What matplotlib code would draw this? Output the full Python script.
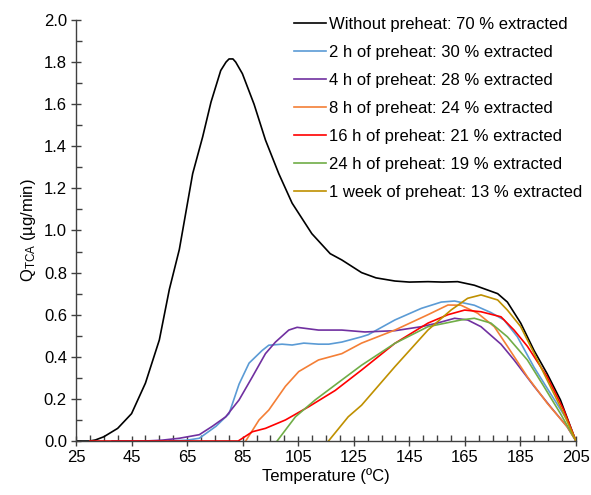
import matplotlib
matplotlib.use("Agg")
import matplotlib.pyplot as plt
from matplotlib.ticker import MultipleLocator, FormatStrFormatter

plt.rcParams['font.family'] = ['Liberation Sans', 'DejaVu Sans']
plt.rcParams['mathtext.fontset'] = 'custom'
plt.rcParams['mathtext.rm'] = 'Liberation Sans'
plt.rcParams['mathtext.it'] = 'Liberation Sans:italic'

labels = [
    "Without preheat: 70 % extracted",
    "2 h of preheat: 30 % extracted",
    "4 h of preheat: 28 % extracted",
    "8 h of preheat: 24 % extracted",
    "16 h of preheat: 21 % extracted",
    "24 h of preheat: 19 % extracted",
    "1 week of preheat: 13 % extracted",
]
colors = ["#000000", "#5B9BD5", "#7030A0", "#F47F36", "#FF0000", "#70AD47", "#BF9000"]
x_ticks = [25, 45, 65, 85, 105, 125, 145, 165, 185, 205]

t_none = [25, 30, 32, 35, 40, 45, 50, 55, 58.6, 62.2, 67.0, 70.6, 73.6, 77.1, 79, 80.1, 81.5, 82.5,
          84.9, 89.1, 93.2, 98.0, 102.8, 109.9, 116.5, 120.7, 127.8, 133, 139.8, 145, 151.7, 157,
          162.4, 168.4, 176.8, 180.3, 185.1, 189.9, 194.6, 199.4, 204.8, 205]
q_none = [0, 0, 0.005, 0.02, 0.06, 0.13, 0.275, 0.48, 0.72, 0.91, 1.27, 1.445, 1.61, 1.76, 1.80,
          1.815, 1.815, 1.80, 1.745, 1.60, 1.43, 1.27, 1.13, 0.985, 0.89, 0.86, 0.80, 0.775, 0.76,
          0.755, 0.757, 0.755, 0.757, 0.74, 0.70, 0.66, 0.56, 0.43, 0.32, 0.195, 0.005, 0]

t_2h = [58.6, 65, 69.4, 75.4, 80.1, 83.7, 87.3, 92.0, 94.4, 99.2, 102.8, 107, 112.3, 116, 120.7,
        127.8, 130.2, 139.8, 149.3, 156.5, 161.3, 168.4, 174.4, 179.1, 183.9, 189.9, 195.8,
        201.8, 205]
q_2h = [0, 0.004, 0.013, 0.07, 0.13, 0.27, 0.37, 0.43, 0.455, 0.46, 0.456, 0.465, 0.46, 0.46,
        0.47, 0.495, 0.505, 0.575, 0.63, 0.66, 0.665, 0.645, 0.61, 0.575, 0.495, 0.35, 0.226,
        0.10, 0]

t_4h = [38, 50, 56, 62.2, 69.4, 74.1, 78.9, 83.7, 88.5, 93.2, 96.8, 101.6, 104.6, 112.3, 120.7,
        129.0, 139.8, 149.3, 155, 161.3, 166.0, 170.8, 178.0, 182.7, 189.9, 195.8, 201.8, 205]
q_4h = [0, 0, 0.004, 0.013, 0.03, 0.07, 0.115, 0.195, 0.305, 0.415, 0.47, 0.527, 0.54, 0.527,
        0.527, 0.518, 0.524, 0.543, 0.56, 0.583, 0.575, 0.543, 0.46, 0.385, 0.26, 0.163, 0.068, 0]

t_8h = [86.1, 90.9, 94.4, 100.4, 105.2, 112.3, 120.7, 127.8, 139.8, 151.7, 158.9, 163.6, 169.6,
        175.6, 180.3, 187.5, 194.6, 201.8, 205]
q_8h = [0, 0.10, 0.147, 0.26, 0.33, 0.385, 0.415, 0.465, 0.527, 0.60, 0.646, 0.645, 0.607,
        0.543, 0.45, 0.305, 0.18, 0.068, 0]

t_16h = [30, 57, 83.4, 88.5, 93.2, 100.4, 108.8, 118.3, 127.8, 139.8, 151.7, 158.9, 164.9,
         170.8, 178.0, 182.7, 187.5, 194.6, 200.6, 205]
q_16h = [0, 0, 0, 0.044, 0.06, 0.10, 0.163, 0.24, 0.337, 0.464, 0.56, 0.60, 0.622, 0.614,
         0.59, 0.527, 0.45, 0.305, 0.147, 0]

t_24h = [97.4, 104.0, 111.1, 120.7, 127.8, 139.8, 151.7, 163.6, 168.4, 174.4, 180.3, 187.5,
         193.4, 199.4, 205]
q_24h = [0, 0.115, 0.195, 0.29, 0.36, 0.464, 0.543, 0.575, 0.583, 0.56, 0.495, 0.385, 0.26,
         0.13, 0]

t_1w = [115.9, 123.0, 127.8, 139.8, 151.7, 160.0, 166.0, 170.8, 176.8, 180.3, 185.1, 189.9,
        194.6, 200.6, 205]
q_1w = [0, 0.115, 0.17, 0.353, 0.527, 0.622, 0.678, 0.694, 0.67, 0.622, 0.543, 0.417, 0.29,
        0.13, 0]

series = [(t_none, q_none), (t_2h, q_2h), (t_4h, q_4h), (t_8h, q_8h),
          (t_16h, q_16h), (t_24h, q_24h), (t_1w, q_1w)]

fig = plt.figure(figsize=(5.91, 4.95), dpi=100)
ax = fig.add_axes([76/591, 1-441/495, (576-76)/591, (441-20)/495])

for (t, q), lab, c in zip(series, labels, colors):
    ax.plot(t, q, color=c, lw=1.2, label=lab)

ax.set_xlim(25, 205)
ax.set_ylim(0, 2.0)
ax.set_xticks(x_ticks)
ax.xaxis.set_minor_locator(MultipleLocator(5))
ax.yaxis.set_major_locator(MultipleLocator(0.2))
ax.yaxis.set_minor_locator(MultipleLocator(0.1))
ax.yaxis.set_major_formatter(FormatStrFormatter('%.1f'))
ax.spines['top'].set_visible(False)
ax.spines['right'].set_visible(False)
for s in ('left', 'bottom'):
    ax.spines[s].set_color('#404040')
    ax.spines[s].set_linewidth(1.0)
ax.tick_params(which='major', direction='inout', length=7, width=1.0, color='#404040',
               labelsize=12, pad=3)
ax.tick_params(which='minor', direction='in', length=4, width=1.0, color='#404040')

ax.set_xlabel("Temperature (ºC)", fontsize=12, labelpad=2)
ax.set_ylabel("Q$_{\\mathregular{TCA}}$ (µg/min)", fontsize=12, labelpad=4)

leg = ax.legend(loc='upper right', bbox_to_anchor=(1.025, 1.024), frameon=False, fontsize=12,
                handlelength=1.9, handletextpad=0.15, labelspacing=0.78, borderaxespad=0)

fig.savefig("out.png", dpi=100)
